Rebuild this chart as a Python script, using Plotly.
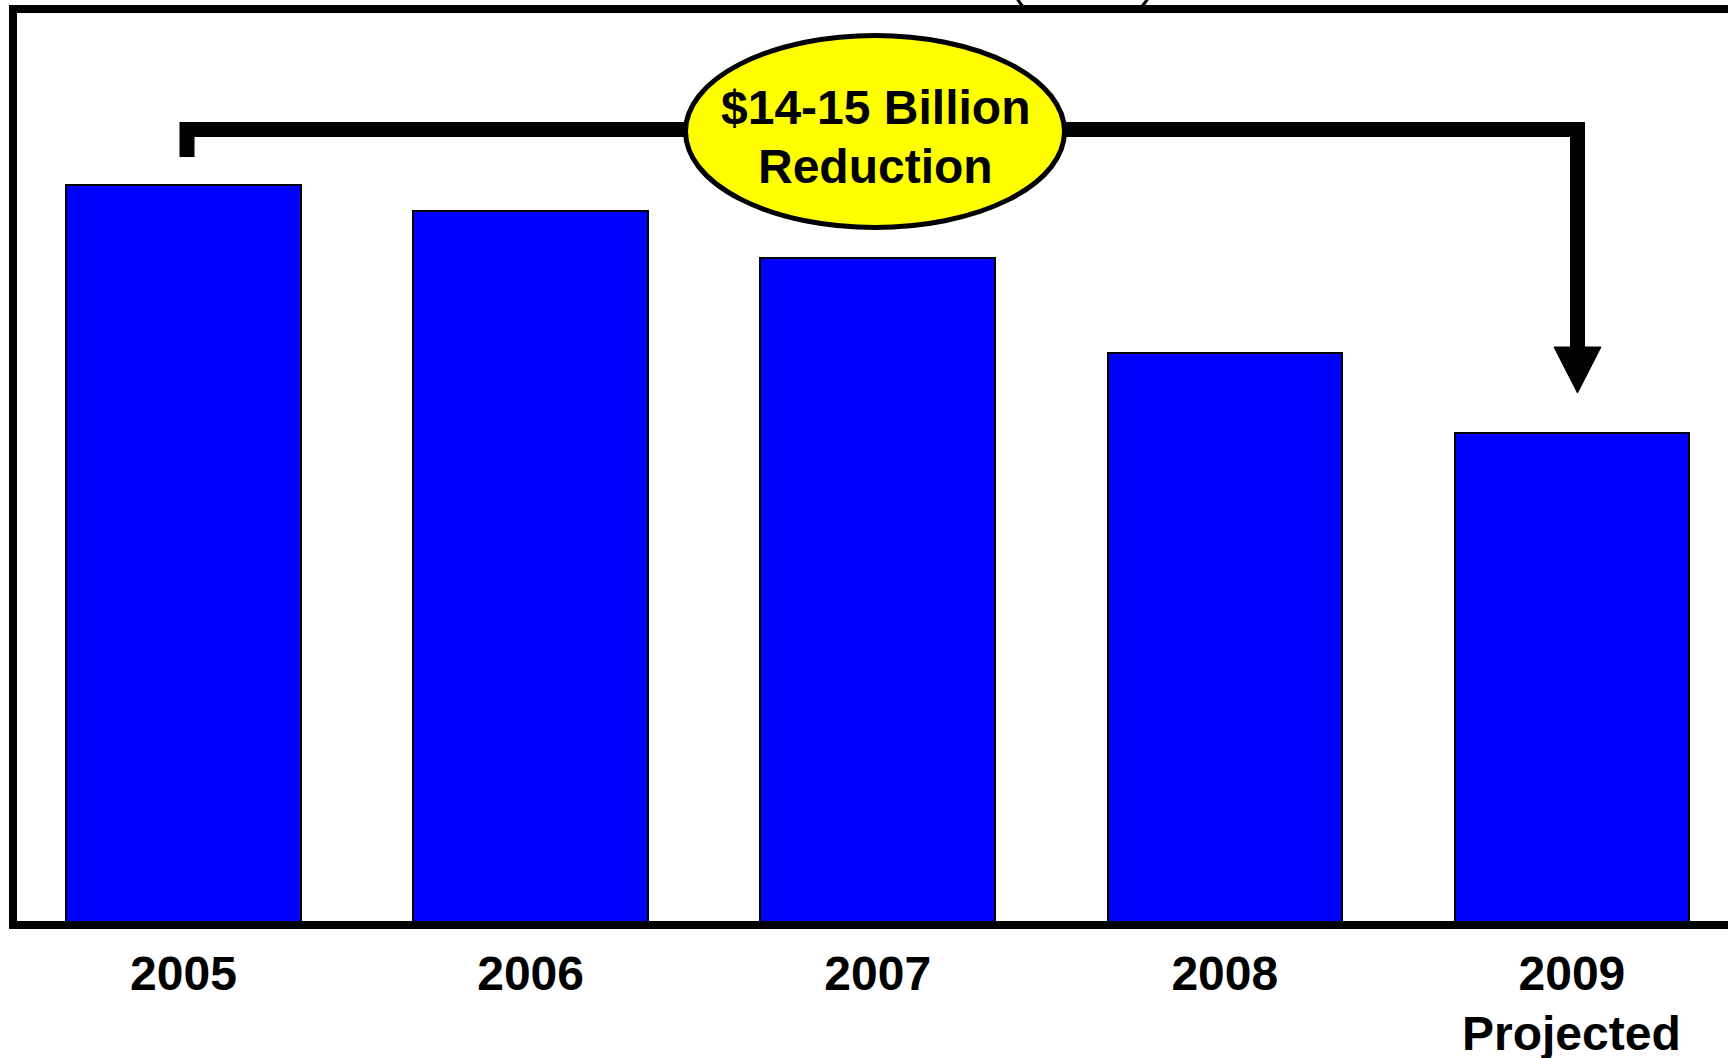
import plotly.graph_objects as go

# Spending by year (billions of dollars)
years = ["2005", "2006", "2007", "2008", "2009"]
tick_labels = ["2005", "2006", "2007", "2008", "2009"]
values = [43.5, 42.0, 39.2, 33.6, 28.9]
projected_note = "Projected"
callout_lines = ["$14-15 Billion", "Reduction"]

W, H = 1728, 1058
ML, MR, MT, MB = 12, 0, 9, 133
PW, PH = W - ML - MR, H - MT - MB

FONT = "Liberation Sans, Arial, sans-serif"


def px(x):
    """Horizontal layout pixel -> paper coordinate."""
    return (x - ML) / PW


def py(y):
    """Vertical layout pixel -> paper coordinate."""
    return (MT + PH - y) / PH


def path(points, close=False):
    s = "M " + " L ".join(f"{px(a):.5f},{py(b):.5f}" for a, b in points)
    return s + (" Z" if close else "")


xs = list(range(len(years)))

fig = go.Figure(
    go.Bar(
        x=xs,
        y=values,
        width=0.6756,
        marker=dict(color="#0000FF", line=dict(color="black", width=2)),
        hoverinfo="skip",
    )
)

shapes = []

# partial outline peeking in at the top edge
shapes.append(dict(
    type="path", xref="paper", yref="paper",
    path=(f"M {px(1017):.5f},{py(-2):.5f} Q {px(1021):.5f},{py(6):.5f} {px(1027):.5f},{py(10):.5f} "
          f"L {px(1137):.5f},{py(10):.5f} Q {px(1144):.5f},{py(6):.5f} {px(1148):.5f},{py(-2):.5f}"),
    line=dict(color="black", width=3), layer="above",
))

# frame: left, top and baseline
shapes.append(dict(
    type="rect", xref="paper", yref="paper",
    x0=px(13), x1=px(W + 20), y0=py(925), y1=py(9),
    line=dict(color="black", width=8), fillcolor="rgba(0,0,0,0)", layer="above",
))

# bracket from the 2005 bar over to the 2009 bar
shapes.append(dict(
    type="path", xref="paper", yref="paper",
    path=path([(187, 157), (187, 129.5), (1577.5, 129.5), (1577.5, 350)]),
    line=dict(color="black", width=15), layer="above",
))
# arrow head
shapes.append(dict(
    type="path", xref="paper", yref="paper",
    path=path([(1554, 347), (1601, 347), (1577.5, 393)], close=True),
    line=dict(color="black", width=1), fillcolor="black", layer="above",
))
# callout ellipse
shapes.append(dict(
    type="circle", xref="paper", yref="paper",
    x0=px(685.5), x1=px(1064.5), y0=py(227.5), y1=py(35.5),
    line=dict(color="black", width=5), fillcolor="#FFFF00", layer="above",
))

annotations = [
    dict(
        text=f"<b>{callout_lines[0]}</b>", xref="paper", yref="paper",
        x=px(875), y=py(108), xanchor="center", yanchor="middle",
        showarrow=False, align="center",
        font=dict(family=FONT, size=48, color="black"),
    ),
    dict(
        text=f"<b>{callout_lines[1]}</b>", xref="paper", yref="paper",
        x=px(875), y=py(166), xanchor="center", yanchor="middle",
        showarrow=False, align="center",
        font=dict(family=FONT, size=48, color="black"),
    ),
    dict(
        text=f"<b>{projected_note}</b>", xref="x", yref="paper",
        x=xs[-1], y=py(1005), xanchor="center", yanchor="top",
        showarrow=False,
        font=dict(family=FONT, size=48, color="black"),
    ),
]

fig.update_layout(
    width=W, height=H,
    margin=dict(l=ML, r=MR, t=MT, b=MB, pad=0),
    paper_bgcolor="white", plot_bgcolor="white",
    showlegend=False,
    bargap=0,
    shapes=shapes,
    annotations=annotations,
    xaxis=dict(
        range=[(ML - 183.5) / 347.1, (W - 183.5) / 347.1],
        tickmode="array", tickvals=xs, ticktext=[f"<b>{t}</b>" for t in tick_labels],
        tickfont=dict(family=FONT, size=48, color="black"),
        ticks="", ticklabelstandoff=16,
        showgrid=False, zeroline=False, showline=False,
        fixedrange=True,
    ),
    yaxis=dict(
        range=[0, PH / 17.01],
        visible=False, showgrid=False, zeroline=False, fixedrange=True,
    ),
)

fig.write_html("out.html", config={"displayModeBar": False})
